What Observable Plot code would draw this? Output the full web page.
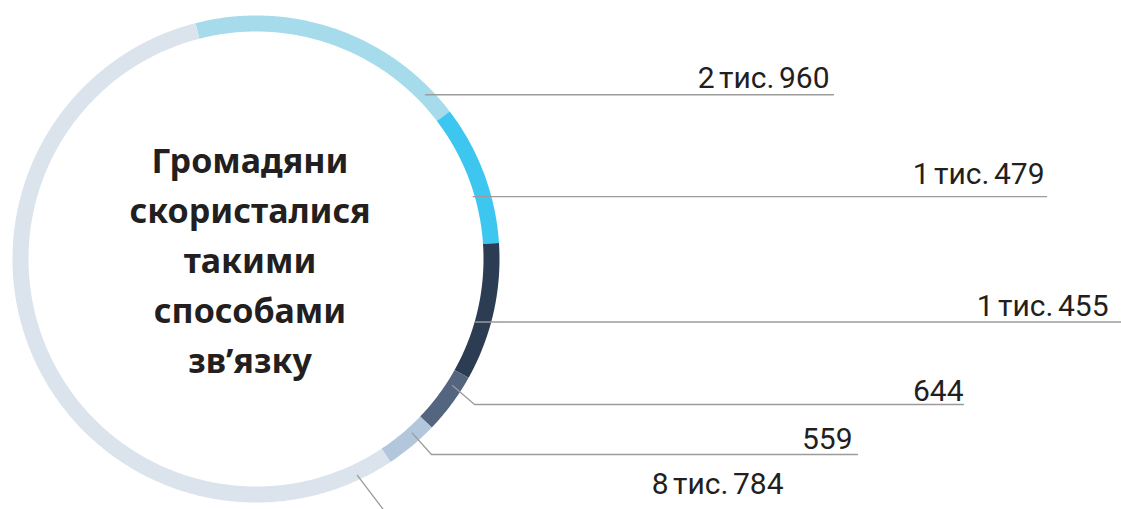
<!DOCTYPE html>
<html>
<head>
<meta charset="utf-8">
<script src="https://cdn.jsdelivr.net/npm/d3@7"></script>
<script src="https://cdn.jsdelivr.net/npm/@observablehq/plot@0.6"></script>
<style>
  html, body { margin: 0; padding: 0; background: #ffffff; }
  #chart svg { display: block; }
  #chart .num-labels text { word-spacing: -3px; }
</style>
</head>
<body>
<div id="chart"></div>
<script>
// ---- data ----
const categories = ["c1", "c2", "c3", "c4", "c5", "c6"];
const values = [2960, 1479, 1455, 644, 559, 8784];
const valueLabels = ["2 тис. 960", "1 тис. 479", "1 тис. 455", "644", "559", "8 тис. 784"];
const titleLines = ["Громадяни", "скористалися", "такими", "способами", "зв\u2019язку"];

// ---- styles ----
const colors = ["#a5dbeb", "#3dc7f0", "#2c3d53", "#53657f", "#b2c6dc", "#dbe3ed"];

// ---- layout ----
const W = 1121, H = 509;
const cx = 255.5, cy = 258.5;      // ring centre (px)
const rMid = 235.5, ringWidth = 16;
const startDeg = -14.4;             // clockwise from 12 o'clock
// leader lines: start on ring (angle deg, radius), horizontal level (px y), end x (px), slope dx/dy of the bend
const leaderAngle  = [45.9, 74.0, 106.0, 122.8, 138.1, 154.9];
const leaderRadius = [236, 226, 228.5, 233.7, 234, 239];
const leaderLevel  = [null, null, null, 404, 454, 540];
const leaderSlope  = [0, 0, 0, 1.17, 0.9, 0.76];
const leaderEnd    = [833, 1046, 1125, 963, 857, null];
const labelX = [829, 1044, 1108, 963, 852, 783];
const labelY = [87, 183, 315, 400, 448, 493];
const titleX = 249.5, titleY0 = 172, titleStep = 50;

// ---- geometry ----
const rad = d => d * Math.PI / 180;
const polar = (a, r) => ({x: r * Math.sin(a), y: -r * Math.cos(a)});

const pie = d3.pie().sort(null).value(d => d)
  .startAngle(rad(startDeg)).endAngle(rad(startDeg) + 2 * Math.PI);
const arcs = pie(values);

const ringPts = [];
arcs.forEach((a, i) => {
  const n = Math.max(2, Math.ceil((a.endAngle - a.startAngle) / rad(0.5)));
  for (let k = 0; k <= n; k++) {
    const t = a.startAngle + (a.endAngle - a.startAngle) * k / n;
    ringPts.push({cat: categories[i], ...polar(t, rMid)});
  }
});

const leaderPts = [];
values.forEach((v, i) => {
  const s = polar(rad(leaderAngle[i]), leaderRadius[i]);
  leaderPts.push({id: i, x: s.x, y: s.y});
  const lvl = leaderLevel[i] == null ? s.y : leaderLevel[i] - cy;
  const bx = s.x + (lvl - s.y) * leaderSlope[i];
  if (leaderLevel[i] != null) leaderPts.push({id: i, x: bx, y: lvl});
  if (leaderEnd[i] != null) leaderPts.push({id: i, x: leaderEnd[i] - cx, y: lvl});
});

const labels = values.map((v, i) => ({text: valueLabels[i], x: labelX[i] - cx, y: labelY[i] - cy}));
const titles = titleLines.map((t, i) => ({text: t, x: titleX - cx, y: titleY0 + i * titleStep - cy}));

const chart = Plot.plot({
  width: W, height: H,
  margin: 0,
  x: {type: "linear", domain: [-cx, W - cx], range: [0, W], axis: null},
  y: {type: "linear", domain: [-cy, H - cy], range: [0, H], axis: null},
  color: {domain: categories, range: colors},
  style: {background: "#ffffff"},
  marks: [
    Plot.line(ringPts, {x: "x", y: "y", z: "cat", stroke: "cat", strokeWidth: ringWidth, strokeLinecap: "butt", strokeLinejoin: "round"}),
    Plot.line(leaderPts, {x: "x", y: "y", z: "id", stroke: "#9b9b9b", strokeWidth: 1.3}),
    Plot.text(labels, {x: "x", y: "y", text: "text", textAnchor: "end", lineAnchor: "bottom",
      fontFamily: "Roboto", fontSize: 30, fontWeight: 400, fill: "#231f20", letterSpacing: "-0.6px",
      className: "num-labels"}),
    Plot.text(titles, {x: "x", y: "y", text: "text", textAnchor: "middle", lineAnchor: "bottom",
      fontFamily: "Noto Sans", fontSize: 34, fontWeight: 700, fill: "#231f20"})
  ]
});
document.getElementById("chart").appendChild(chart);
</script>
</body>
</html>
